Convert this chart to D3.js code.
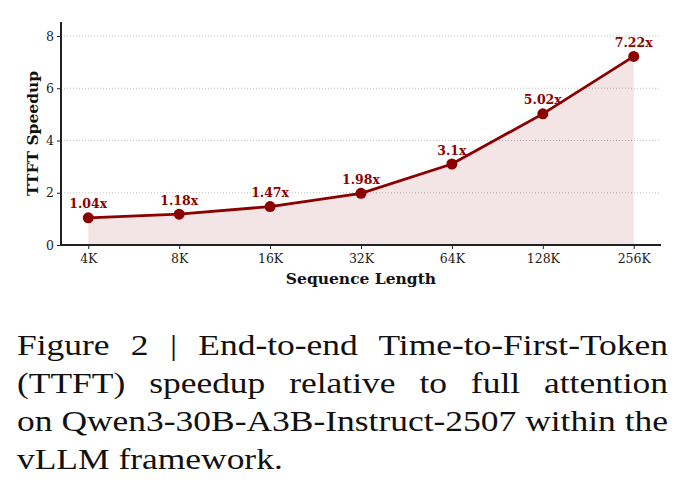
<!DOCTYPE html>
<html>
<head>
  <meta charset="utf-8">
  <title>TTFT Speedup</title>
  <script src="https://d3js.org/d3.v7.min.js"></script>
  <style>
    body { margin: 0; background: #fff; }
  </style>
</head>
<body>
  <script>
  // data
  var categories = ["4K", "8K", "16K", "32K", "64K", "128K", "256K"];
  var speedups = [1.04, 1.18, 1.47, 1.98, 3.1, 5.02, 7.22];
  var speedupLabels = ["1.04x", "1.18x", "1.47x", "1.98x", "3.1x", "5.02x", "7.22x"];
  var yTicks = [0, 2, 4, 6, 8];
  var captionLines = [
    "Figure 2 | End-to-end Time-to-First-Token",
    "(TTFT) speedup relative to full attention",
    "on Qwen3-30B-A3B-Instruct-2507 within the",
    "vLLM framework."
  ];

  var width = 685, height = 501;
  var red = "#8b0000";
  var serif = "'DejaVu Serif', serif";

  var svg = d3.select("body").append("svg")
    .attr("width", width).attr("height", height);

  // scales
  var xScale = d3.scaleLinear().domain([-0.3, 6.3]).range([61, 661]);
  var yScale = d3.scaleLinear().domain([0, 8]).range([245, 36]);
  var yTop = yScale(8.54);

  // grid
  svg.append("g").selectAll("line")
    .data(yTicks.filter(function(d) { return d > 0; }))
    .enter().append("line")
    .attr("x1", xScale(-0.3)).attr("x2", xScale(6.3))
    .attr("y1", function(d) { return yScale(d); })
    .attr("y2", function(d) { return yScale(d); })
    .attr("stroke", "#b0b0b0")
    .attr("stroke-width", 0.8)
    .attr("stroke-dasharray", "1,2");

  // area
  var area = d3.area()
    .x(function(d, i) { return xScale(i); })
    .y0(yScale(0))
    .y1(function(d) { return yScale(d); });

  svg.append("path")
    .datum(speedups)
    .attr("fill", red)
    .attr("fill-opacity", 0.1)
    .attr("d", area);

  // axes
  var xAxis = d3.axisBottom(xScale)
    .tickValues(d3.range(categories.length))
    .tickFormat(function(i) { return categories[i]; })
    .tickSize(4).tickSizeOuter(0);
  var yAxis = d3.axisLeft(yScale)
    .tickValues(yTicks).tickSize(4).tickSizeOuter(0);

  var gx = svg.append("g")
    .attr("transform", "translate(0," + yScale(0) + ")")
    .call(xAxis);
  gx.select(".domain").attr("d", "M" + xScale(-0.3) + ",0H" + xScale(6.3))
    .attr("stroke", "#222").attr("stroke-width", 2);
  gx.selectAll(".tick line").attr("stroke", "#222").attr("stroke-width", 1);
  gx.selectAll(".tick text")
    .attr("font-family", serif).attr("font-size", 12.5)
    .attr("fill", "#222").attr("dy", "0.9em");

  var gy = svg.append("g")
    .attr("transform", "translate(" + xScale(-0.3) + ",0)")
    .call(yAxis);
  gy.select(".domain").attr("d", "M0," + yTop + "V" + yScale(0))
    .attr("stroke", "#222").attr("stroke-width", 2);
  gy.selectAll(".tick line").attr("stroke", "#222").attr("stroke-width", 1);
  gy.selectAll(".tick text")
    .attr("font-family", serif).attr("font-size", 12.5)
    .attr("fill", "#222");

  // axis labels
  svg.append("text")
    .attr("x", (xScale(-0.3) + xScale(6.3)) / 2)
    .attr("y", 284)
    .attr("text-anchor", "middle")
    .attr("font-family", serif).attr("font-weight", "bold").attr("font-size", 15.5)
    .attr("fill", "#111")
    .text("Sequence Length");

  svg.append("text")
    .attr("transform", "translate(38," + (yScale(0) + yTop) / 2 + ") rotate(-90)")
    .attr("text-anchor", "middle")
    .attr("font-family", serif).attr("font-weight", "bold").attr("font-size", 15.5)
    .attr("fill", "#111")
    .text("TTFT Speedup");

  // line + markers
  var line = d3.line()
    .x(function(d, i) { return xScale(i); })
    .y(function(d) { return yScale(d); });

  svg.append("path")
    .datum(speedups)
    .attr("fill", "none")
    .attr("stroke", red)
    .attr("stroke-width", 2.8)
    .attr("d", line);

  svg.selectAll(".pt")
    .data(speedups)
    .enter().append("circle")
    .attr("cx", function(d, i) { return xScale(i); })
    .attr("cy", function(d) { return yScale(d); })
    .attr("r", 5.5)
    .attr("fill", red);

  svg.selectAll(".lbl")
    .data(speedups)
    .enter().append("text")
    .attr("x", function(d, i) { return xScale(i); })
    .attr("y", function(d) { return yScale(d) - 9.5; })
    .attr("text-anchor", "middle")
    .attr("font-family", serif).attr("font-weight", "bold").attr("font-size", 12.5)
    .attr("fill", red)
    .text(function(d, i) { return speedupLabels[i]; });

  // caption: stretch the font so line 3 fills the width, then justify by word spacing
  var capLeft = 17, capRight = 668;
  var baselines = [355, 393, 431, 469];
  var capFont = "'Liberation Serif', serif";
  var probe = svg.append("text")
    .attr("font-family", capFont).attr("font-size", 30)
    .text(captionLines[2]);
  var natural = probe.node().getComputedTextLength();
  probe.remove();
  var sx = (capRight - capLeft) / natural;
  var lineW = (capRight - capLeft) / sx;

  var cap = svg.append("g")
    .attr("transform", "translate(" + capLeft + ",0) scale(" + sx + ",1)");
  captionLines.forEach(function(txt, i) {
    var t = cap.append("text")
      .attr("x", 0).attr("y", baselines[i])
      .attr("font-family", capFont)
      .attr("font-size", 30)
      .attr("fill", "#111")
      .text(txt);
    if (i < captionLines.length - 1) {
      var w = t.node().getComputedTextLength();
      var gaps = txt.split(" ").length - 1;
      t.attr("word-spacing", (lineW - w) / gaps);
    }
  });
  </script>
</body>
</html>
